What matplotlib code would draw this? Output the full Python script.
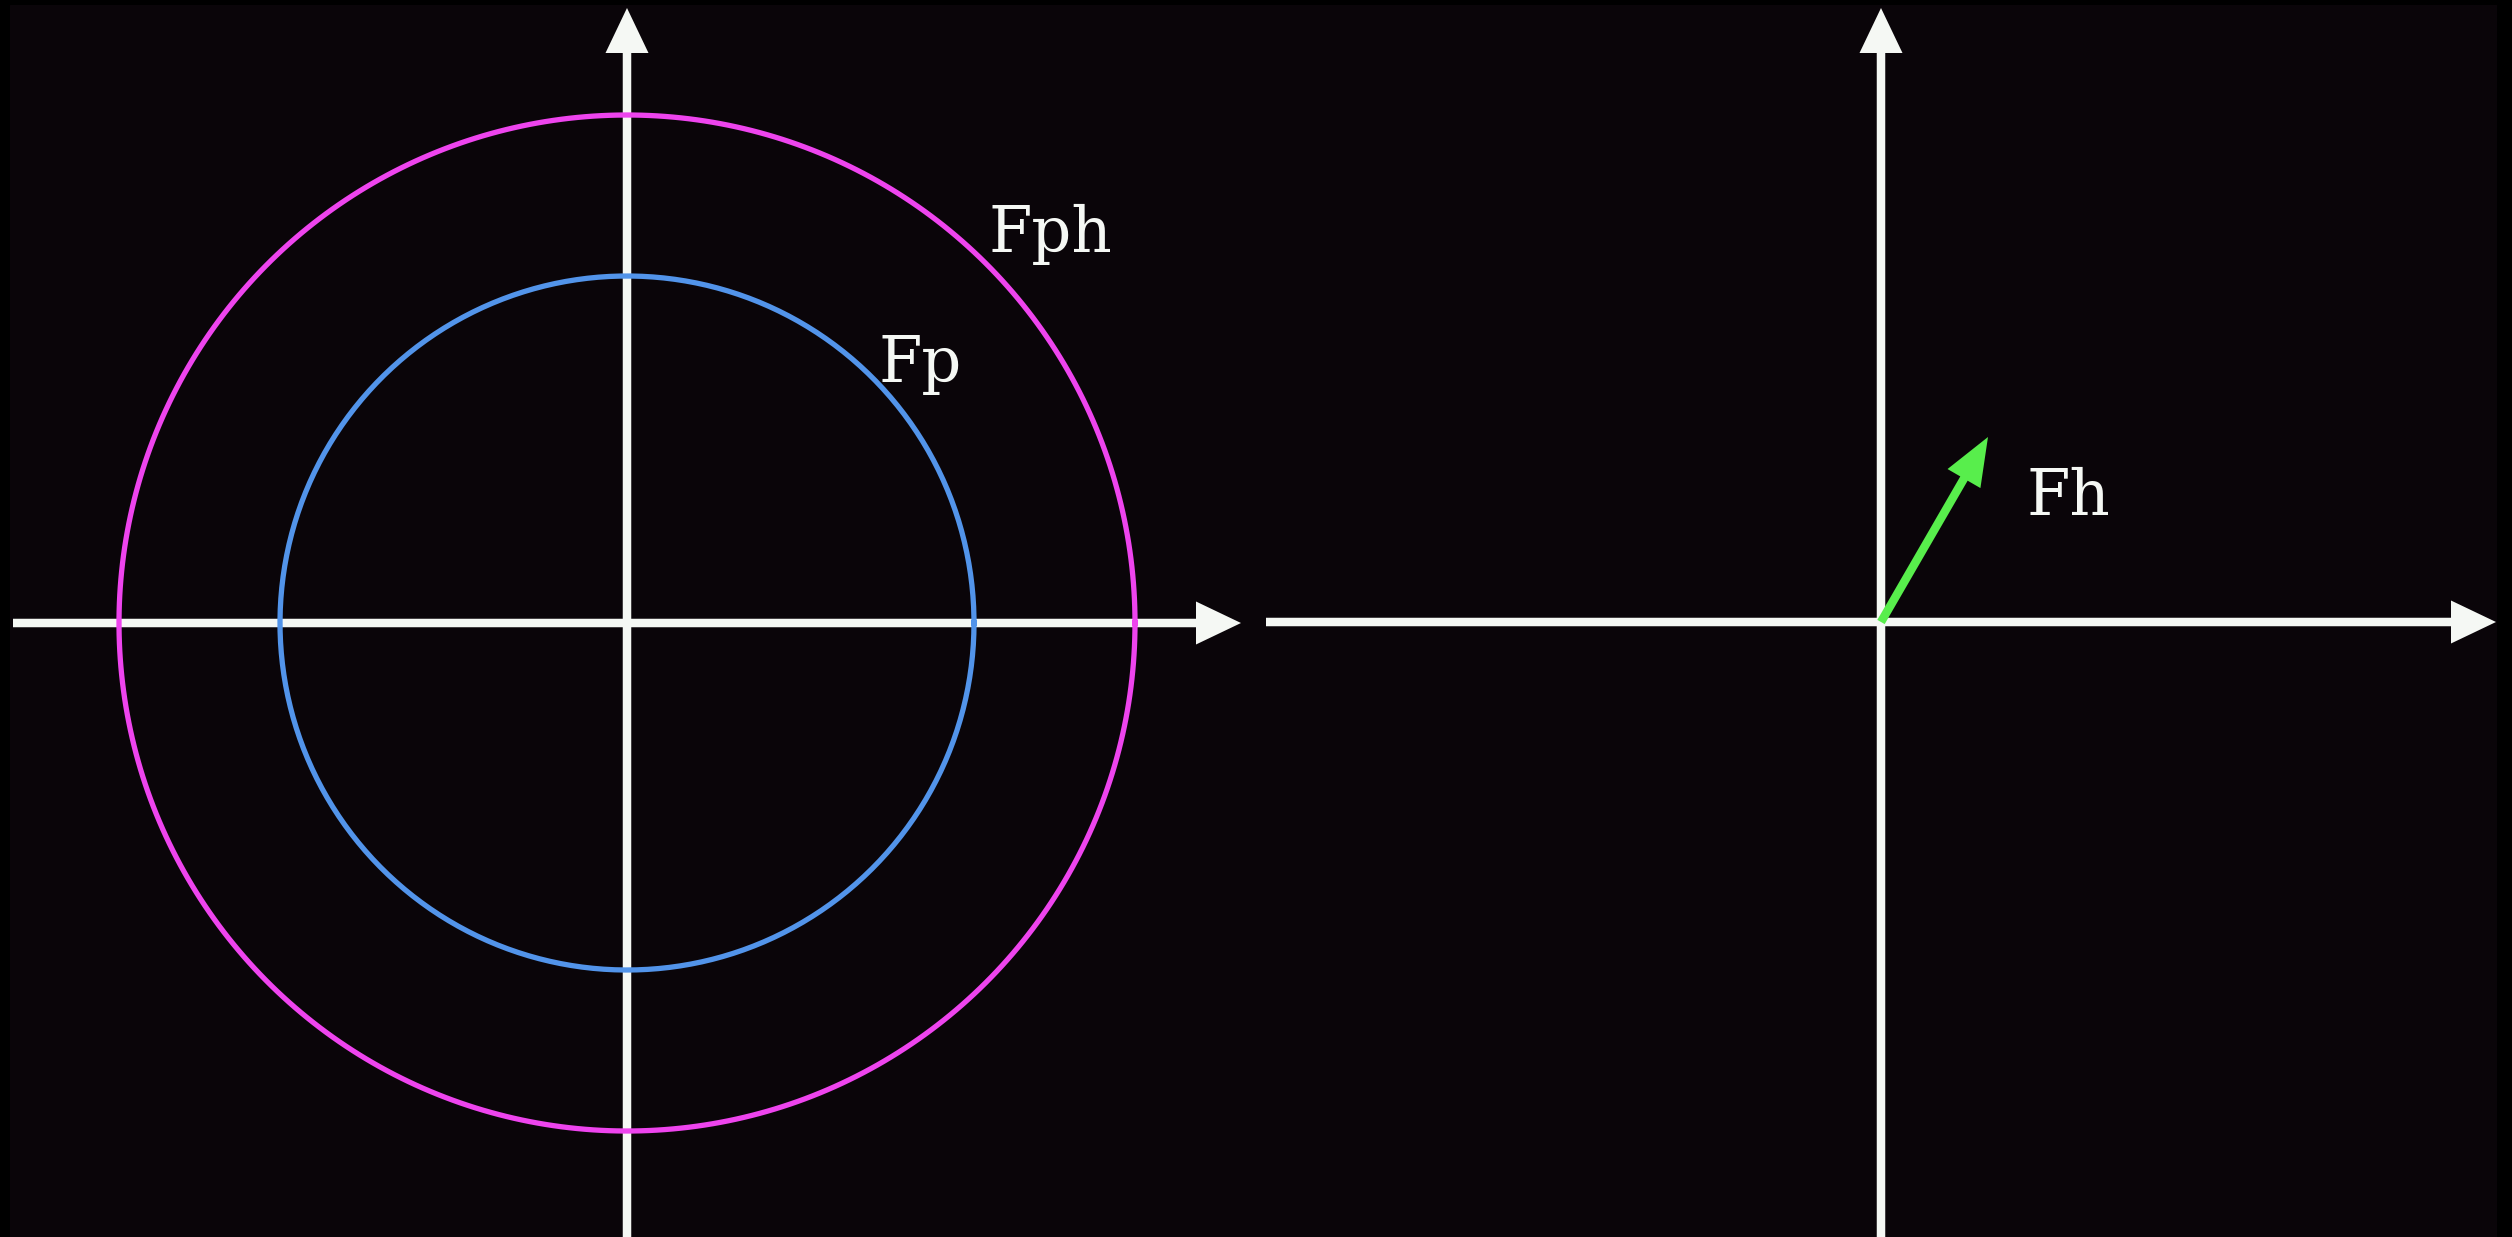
import matplotlib
matplotlib.use("Agg")
import matplotlib.pyplot as plt
import numpy as np

# Figure geometry is in pixels, y grows downward (like the source image)
W, H = 2512, 1237

# Left panel: two circles centred on the left origin
left_origin = (627, 623)
circle_radii = [508, 347]
circle_colors = ["#ee44ee", "#5294ea"]
circle_labels = ["Fph", "Fp"]
label_pos = [(988, 252), (878, 382)]

# Right panel: a single vector Fh
right_origin = (1881, 622)
fh_vector = (107, -185)
fh_label_pos = (2026, 515)

# Axis extents (x from/to, y from/to) per panel
left_x_span = (13, 1241)
right_x_span = (1266, 2496)
y_span = (1237, 8)

bg = "#0a0509"
white = "#f5f8f4"
green = "#58ee4c"
# slab-serif look, closest thing installed to Courier
label_font = dict(family=["DejaVu Serif"], fontsize=45, color=white)

fig = plt.figure(figsize=(W / 100, H / 100), dpi=100, facecolor="black")
ax = fig.add_axes([10 / W, 0, (2497 - 10) / W, (H - 5) / H])
ax.set_facecolor(bg)
ax.set_xlim(10, 2497)
ax.set_ylim(H, 5)
ax.axis("off")
ax.add_patch(plt.Rectangle((10, 5), 2487, H - 5, color=bg, zorder=0))

def axes_cross(origin, xspan):
    ox, oy = origin
    ax.arrow(xspan[0], oy, xspan[1] - xspan[0], 0, width=8.5, head_width=43,
             head_length=45, length_includes_head=True, color=white, lw=0, zorder=2)
    ax.arrow(ox, y_span[0], 0, y_span[1] - y_span[0], width=8.5, head_width=43,
             head_length=45, length_includes_head=True, color=white, lw=0, zorder=2)

axes_cross(left_origin, left_x_span)
axes_cross(right_origin, right_x_span)

t = np.linspace(0, 2 * np.pi, 400)
for r, c in zip(circle_radii, circle_colors):
    ax.plot(left_origin[0] + r * np.cos(t), left_origin[1] + r * np.sin(t),
            color=c, lw=3.8, zorder=3)

for lab, (x, y) in zip(circle_labels, label_pos):
    ax.text(x, y, lab, ha="left", va="baseline", zorder=4, **label_font)

ax.arrow(right_origin[0], right_origin[1], fh_vector[0], fh_vector[1], width=8.5,
         head_width=38, head_length=48, length_includes_head=True,
         color=green, lw=0, zorder=3)
ax.text(fh_label_pos[0], fh_label_pos[1], "Fh", ha="left", va="baseline",
        zorder=4, **label_font)

fig.savefig("out.png", dpi=100, facecolor="black")
